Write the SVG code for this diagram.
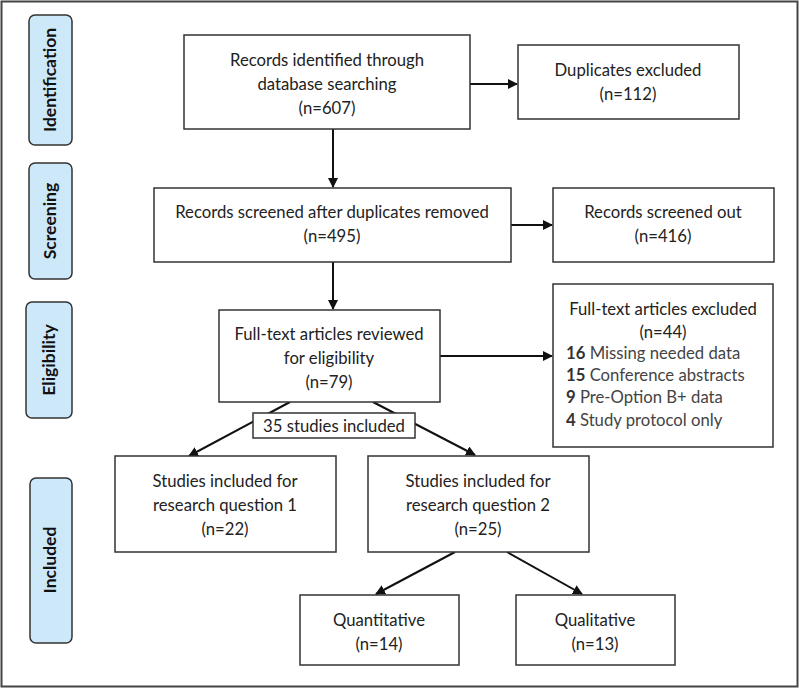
<svg xmlns="http://www.w3.org/2000/svg" width="800" height="688" viewBox="0 0 800 688">
<style>
.box{fill:#fff;stroke:#333;stroke-width:1.5}
.stage{fill:#cce8f9;stroke:#333;stroke-width:1.5}
.t{font-family:Lato,"Open Sans",sans-serif;font-size:16.7px;fill:#222;text-anchor:middle}
.l{font-family:Lato,"Open Sans",sans-serif;font-size:16.7px;fill:#444}
.b{font-weight:bold;fill:#333}
.s{font-family:Lato,"Open Sans",sans-serif;font-size:17.5px;font-weight:bold;fill:#111;text-anchor:middle}
.c{stroke:#111;stroke-width:2;fill:none;marker-end:url(#ah)}
</style>
<defs>
<marker id="ah" markerWidth="10" markerHeight="10" refX="9" refY="5" orient="auto" markerUnits="userSpaceOnUse">
<path d="M0,0 L10,5 L0,10 z" fill="#111"/>
</marker>
</defs>
<rect x="1.5" y="1.5" width="796" height="685" fill="#fff" stroke="#444" stroke-width="2"/>

<g id="stage-identification"><rect class="stage" x="29" y="15" width="43" height="130" rx="6"/><text class="s" transform="translate(56,80) rotate(-90)">Identification</text></g>
<g id="stage-screening"><rect class="stage" x="29" y="163" width="43" height="116" rx="6"/><text class="s" transform="translate(56,221) rotate(-90)">Screening</text></g>
<g id="stage-eligibility"><rect class="stage" x="26" y="302" width="46" height="116" rx="6"/><text class="s" transform="translate(55,360) rotate(-90)">Eligibility</text></g>
<g id="stage-included"><rect class="stage" x="30" y="478" width="42" height="165" rx="6"/><text class="s" transform="translate(56,560) rotate(-90)">Included</text></g>

<g id="connectors">
<line class="c" x1="470" y1="84" x2="517" y2="84"/>
<line class="c" x1="333" y1="129" x2="333" y2="187"/>
<line class="c" x1="511" y1="225" x2="552" y2="225"/>
<line class="c" x1="333" y1="262" x2="333" y2="309"/>
<line class="c" x1="440" y1="356" x2="552" y2="356"/>
<line class="c" x1="290" y1="402" x2="189" y2="456"/>
<line class="c" x1="373" y1="402" x2="475" y2="455"/>
<line class="c" x1="455" y1="552" x2="376" y2="594"/>
<line class="c" x1="507" y1="552" x2="582" y2="594"/>
</g>

<g id="n-identified"><rect class="box" x="184" y="35" width="286" height="94"/>
<text class="t" x="327" y="66">Records identified through</text><text class="t" x="327" y="90">database searching</text><text class="t" x="327" y="114">(n=607)</text></g>
<g id="n-duplicates"><rect class="box" x="518" y="45" width="221" height="74"/>
<text class="t" x="628" y="76">Duplicates excluded</text><text class="t" x="628" y="100">(n=112)</text></g>
<g id="n-screened"><rect class="box" x="154" y="188" width="357" height="74"/>
<text class="t" x="332" y="218">Records screened after duplicates removed</text><text class="t" x="332" y="242">(n=495)</text></g>
<g id="n-screenedout"><rect class="box" x="553" y="188" width="221" height="74"/>
<text class="t" x="663" y="218">Records screened out</text><text class="t" x="663" y="242">(n=416)</text></g>
<g id="n-fulltext"><rect class="box" x="219" y="310" width="221" height="92"/>
<text class="t" x="329" y="340">Full-text articles reviewed</text><text class="t" x="329" y="364">for eligibility</text><text class="t" x="329" y="388">(n=79)</text></g>
<g id="n-excluded"><rect class="box" x="553" y="284" width="220" height="163"/>
<text class="t" x="663" y="315">Full-text articles excluded</text><text class="t" x="663" y="338">(n=44)</text>
<text class="l" x="566" y="359"><tspan class="b">16</tspan> Missing needed data</text>
<text class="l" x="566" y="381"><tspan class="b">15</tspan> Conference abstracts</text>
<text class="l" x="566" y="403"><tspan class="b">9</tspan> Pre-Option B+ data</text>
<text class="l" x="566" y="426"><tspan class="b">4</tspan> Study protocol only</text></g>
<g id="n-35"><rect class="box" x="253" y="413" width="162" height="25"/>
<text class="t" x="334" y="432">35 studies included</text></g>
<g id="n-rq1"><rect class="box" x="115" y="456" width="221" height="96"/>
<text class="t" x="225" y="487">Studies included for</text><text class="t" x="225" y="511">research question 1</text><text class="t" x="225" y="535">(n=22)</text></g>
<g id="n-rq2"><rect class="box" x="368" y="456" width="221" height="96"/>
<text class="t" x="478" y="487">Studies included for</text><text class="t" x="478" y="511">research question 2</text><text class="t" x="478" y="535">(n=25)</text></g>
<g id="n-quant"><rect class="box" x="300" y="595" width="159" height="70"/>
<text class="t" x="379" y="626">Quantitative</text><text class="t" x="379" y="650">(n=14)</text></g>
<g id="n-qual"><rect class="box" x="516" y="595" width="159" height="70"/>
<text class="t" x="595" y="626">Qualitative</text><text class="t" x="595" y="650">(n=13)</text></g>
</svg>
